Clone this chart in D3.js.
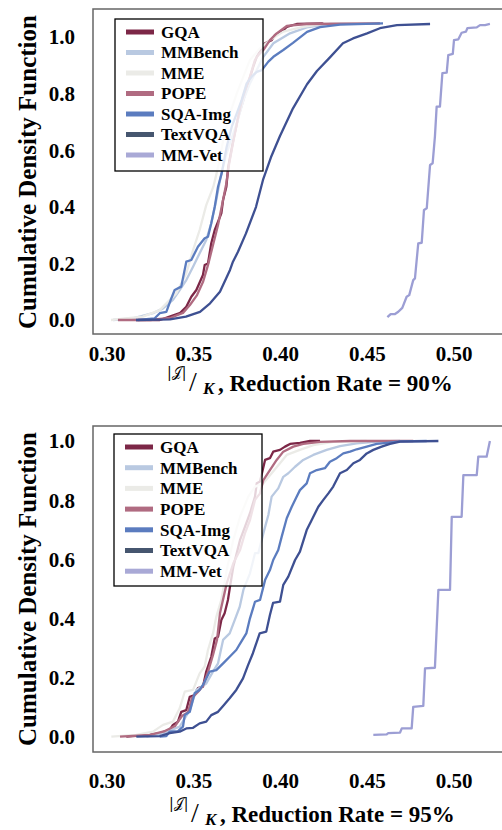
<!DOCTYPE html>
<html>
<head>
<meta charset="utf-8">
<title>CDF of |J|/K</title>
<style>
body { margin: 0; background: #fff; }
svg { display: block; background: #fff; }
text { font-family: "Liberation Serif", "Times New Roman", serif; font-weight: 700; fill: #000; }
</style>
</head>
<body>
<svg width="502" height="830"></svg>
<script src="https://d3js.org/d3.v7.min.js"></script>
<script>

var names = ["GQA", "MMBench", "MME", "POPE", "SQA-Img", "TextVQA", "MM-Vet"];
var colours = ["#7c2747", "#b9c9e1", "#ebebe7", "#b06b81", "#5b7cbf", "#3e5092", "#9c9ed4"];
var swatchColours = ["#7c2747", "#b9c9e1", "#ebebe7", "#b06b81", "#5b7cbf", "#46566f", "#a9a9d6"];
var xTicks = [0.30, 0.35, 0.40, 0.45, 0.50];
var yTicks = [0.0, 0.2, 0.4, 0.6, 0.8, 1.0];
var rates = ["90%", "95%"];

// reduction rate 90%: [x, cdf]
var gqa90 = [[0.3169,0.0],[0.3304,0.0],[0.3361,0.012],[0.3419,0.024],[0.3457,0.047],[0.3486,0.082],[0.3515,0.106],[0.3553,0.159],[0.3563,0.194],[0.3582,0.200],[0.3601,0.271],[0.3621,0.318],[0.3640,0.347],[0.3659,0.377],[0.3669,0.424],[0.3688,0.471],[0.3699,0.542],[0.3728,0.636],[0.3757,0.718],[0.3786,0.777],[0.3814,0.836],[0.3843,0.895],[0.3863,0.930],[0.3892,0.960],[0.3911,0.978],[0.3949,0.989],[0.3968,1.007],[0.4007,1.019],[0.4036,1.036],[0.4093,1.046],[0.4247,1.048]];
var mmbench90 = [[0.3035,0.0],[0.3150,0.006],[0.3265,0.024],[0.3323,0.041],[0.3380,0.071],[0.3419,0.106],[0.3457,0.141],[0.3496,0.188],[0.3534,0.236],[0.3572,0.283],[0.3601,0.342],[0.3630,0.424],[0.3657,0.512],[0.3686,0.583],[0.3719,0.643],[0.3748,0.695],[0.3786,0.777],[0.3824,0.836],[0.3863,0.883],[0.3901,0.930],[0.3959,0.978],[0.4055,1.013],[0.4151,1.034],[0.4285,1.046],[0.4573,1.048]];
var mme90 = [[0.3023,0.0],[0.3207,0.012],[0.3304,0.035],[0.3399,0.094],[0.3457,0.165],[0.3496,0.247],[0.3534,0.318],[0.3572,0.406],[0.3613,0.471],[0.3641,0.542],[0.3670,0.636],[0.3709,0.730],[0.3748,0.801],[0.3786,0.860],[0.3824,0.919],[0.3882,0.960],[0.3939,0.989],[0.4016,1.019],[0.4131,1.036],[0.4247,1.046],[0.4554,1.048]];
var pope90 = [[0.3063,0.0],[0.3248,0.0],[0.3363,0.007],[0.3438,0.025],[0.3478,0.053],[0.3519,0.088],[0.3553,0.134],[0.3582,0.194],[0.3611,0.265],[0.3640,0.336],[0.3663,0.406],[0.3686,0.477],[0.3703,0.548],[0.3726,0.625],[0.3755,0.714],[0.3778,0.777],[0.3801,0.820],[0.3824,0.860],[0.3853,0.919],[0.3872,0.936],[0.3901,0.954],[0.3939,0.989],[0.3978,1.013],[0.4036,1.039],[0.4151,1.046],[0.4573,1.048]];
var sqa90 = [[0.3179,0.0],[0.3275,0.006],[0.3304,0.024],[0.3342,0.029],[0.3371,0.077],[0.3390,0.106],[0.3428,0.118],[0.3457,0.206],[0.3486,0.212],[0.3524,0.259],[0.3563,0.289],[0.3582,0.294],[0.3601,0.342],[0.3621,0.400],[0.3640,0.471],[0.3661,0.518],[0.3690,0.612],[0.3719,0.683],[0.3748,0.730],[0.3776,0.777],[0.3805,0.836],[0.3834,0.860],[0.3863,0.877],[0.3892,0.883],[0.3930,0.913],[0.3959,0.930],[0.4016,0.954],[0.4072,0.979],[0.4153,1.018],[0.4228,1.035],[0.4343,1.044],[0.4591,1.048]];
var textvqa90 = [[0.3167,0.0],[0.3363,0.002],[0.3455,0.012],[0.3536,0.029],[0.3594,0.059],[0.3651,0.100],[0.3709,0.177],[0.3726,0.206],[0.3755,0.241],[0.3801,0.306],[0.3859,0.400],[0.3899,0.495],[0.3945,0.575],[0.3997,0.650],[0.4072,0.748],[0.4153,0.833],[0.4210,0.880],[0.4285,0.928],[0.4360,0.978],[0.4418,0.995],[0.4499,1.013],[0.4573,1.031],[0.4671,1.042],[0.4862,1.046]];
var mmvet90 = [[0.4616,0.010],[0.4635,0.021],[0.4660,0.021],[0.4679,0.029],[0.4702,0.043],[0.4727,0.082],[0.4742,0.088],[0.4765,0.141],[0.4775,0.147],[0.4794,0.271],[0.4814,0.273],[0.4827,0.389],[0.4843,0.395],[0.4862,0.548],[0.4877,0.554],[0.4890,0.648],[0.4900,0.754],[0.4919,0.754],[0.4933,0.872],[0.4958,0.874],[0.4967,0.936],[0.4993,0.940],[0.5000,0.989],[0.5025,0.992],[0.5044,1.015],[0.5069,1.019],[0.5077,1.031],[0.5131,1.034],[0.5150,1.042],[0.5179,1.042],[0.5207,1.046]];

// reduction rate 95%
var gqa95 = [[0.3111,0.001],[0.3246,0.007],[0.3304,0.013],[0.3361,0.024],[0.3380,0.041],[0.3409,0.052],[0.3428,0.085],[0.3457,0.091],[0.3477,0.136],[0.3505,0.142],[0.3524,0.165],[0.3553,0.170],[0.3572,0.221],[0.3601,0.271],[0.3621,0.333],[0.3640,0.339],[0.3659,0.395],[0.3678,0.418],[0.3697,0.463],[0.3709,0.508],[0.3728,0.575],[0.3767,0.666],[0.3795,0.710],[0.3824,0.756],[0.3853,0.812],[0.3863,0.857],[0.3882,0.863],[0.3911,0.936],[0.3939,0.942],[0.3958,0.964],[0.3997,0.970],[0.4026,0.981],[0.4055,0.990],[0.4112,0.994],[0.4170,1.0],[0.4228,1.0]];
var mmbench95 = [[0.3227,0.001],[0.3323,0.013],[0.3419,0.035],[0.3477,0.091],[0.3515,0.159],[0.3572,0.181],[0.3611,0.221],[0.3640,0.249],[0.3669,0.328],[0.3707,0.350],[0.3736,0.395],[0.3765,0.440],[0.3786,0.497],[0.3824,0.553],[0.3853,0.621],[0.3872,0.621],[0.3901,0.688],[0.3930,0.750],[0.3949,0.812],[0.3987,0.840],[0.4016,0.879],[0.4045,0.891],[0.4084,0.913],[0.4131,0.936],[0.4189,0.953],[0.4266,0.970],[0.4343,0.983],[0.4439,0.992],[0.4573,0.999],[0.4689,1.0]];
var mme95 = [[0.3025,0.001],[0.3169,0.007],[0.3265,0.018],[0.3323,0.041],[0.3380,0.052],[0.3419,0.097],[0.3448,0.153],[0.3496,0.159],[0.3534,0.215],[0.3563,0.238],[0.3582,0.294],[0.3611,0.350],[0.3630,0.406],[0.3659,0.463],[0.3690,0.564],[0.3728,0.666],[0.3767,0.744],[0.3814,0.812],[0.3853,0.846],[0.3901,0.857],[0.3949,0.891],[0.3997,0.925],[0.4036,0.953],[0.4112,0.970],[0.4189,0.986],[0.4304,0.997],[0.4497,1.0]];
var pope95 = [[0.3075,0.001],[0.3248,0.007],[0.3334,0.020],[0.3392,0.037],[0.3432,0.071],[0.3467,0.084],[0.3490,0.132],[0.3524,0.152],[0.3553,0.172],[0.3582,0.220],[0.3611,0.277],[0.3634,0.328],[0.3651,0.418],[0.3690,0.519],[0.3728,0.587],[0.3767,0.632],[0.3795,0.688],[0.3824,0.733],[0.3853,0.801],[0.3882,0.823],[0.3901,0.868],[0.3939,0.902],[0.3978,0.936],[0.4016,0.964],[0.4074,0.981],[0.4131,0.990],[0.4228,0.997],[0.4401,1.0],[0.4765,1.0]];
var sqa95 = [[0.3304,0.001],[0.3342,0.003],[0.3361,0.018],[0.3409,0.020],[0.3438,0.035],[0.3448,0.074],[0.3477,0.085],[0.3505,0.148],[0.3534,0.159],[0.3553,0.176],[0.3592,0.221],[0.3630,0.226],[0.3678,0.254],[0.3707,0.271],[0.3745,0.294],[0.3774,0.322],[0.3803,0.350],[0.3824,0.401],[0.3853,0.457],[0.3882,0.463],[0.3911,0.530],[0.3939,0.564],[0.3958,0.598],[0.3987,0.632],[0.4007,0.677],[0.4036,0.739],[0.4065,0.778],[0.4093,0.812],[0.4112,0.834],[0.4151,0.857],[0.4170,0.891],[0.4209,0.902],[0.4256,0.908],[0.4285,0.930],[0.4324,0.942],[0.4362,0.958],[0.4401,0.964],[0.4439,0.972],[0.4497,0.981],[0.4554,0.990],[0.4612,0.994],[0.4689,0.999],[0.4843,1.0]];
var textvqa95 = [[0.3169,0.001],[0.3304,0.003],[0.3361,0.013],[0.3419,0.018],[0.3457,0.029],[0.3496,0.031],[0.3534,0.046],[0.3572,0.052],[0.3601,0.074],[0.3640,0.085],[0.3669,0.105],[0.3707,0.131],[0.3745,0.159],[0.3784,0.198],[0.3813,0.243],[0.3841,0.283],[0.3880,0.350],[0.3918,0.356],[0.3939,0.412],[0.3957,0.453],[0.3997,0.457],[0.4016,0.514],[0.4045,0.542],[0.4084,0.598],[0.4112,0.626],[0.4151,0.699],[0.4180,0.733],[0.4218,0.778],[0.4247,0.801],[0.4276,0.823],[0.4304,0.846],[0.4343,0.891],[0.4382,0.902],[0.4420,0.925],[0.4458,0.936],[0.4497,0.958],[0.4535,0.970],[0.4583,0.981],[0.4631,0.990],[0.4689,0.998],[0.4910,1.0]];
var mmvet95 = [[0.4535,0.007],[0.4612,0.009],[0.4621,0.013],[0.4689,0.015],[0.4699,0.029],[0.4756,0.029],[0.4765,0.102],[0.4823,0.105],[0.4833,0.232],[0.4890,0.234],[0.4910,0.497],[0.4977,0.497],[0.4987,0.744],[0.5044,0.744],[0.5054,0.885],[0.5131,0.885],[0.5140,0.947],[0.5188,0.947],[0.5207,1.0]];

var series90 = [gqa90, mmbench90, mme90, pope90, sqa90, textvqa90, mmvet90];
var series95 = [gqa95, mmbench95, mme95, pope95, sqa95, textvqa95, mmvet95];

var svg = d3.select("svg");

var x = d3.scaleLinear().domain([0.30, 0.50]).range([107, 454]);

var panels = [
  { series: series90, rate: rates[0], top: 9, bottom: 334, y: d3.scaleLinear().domain([0, 1]).range([320, 37]),
    tickY: 361, titleX: 218, titleY: 391, legendTop: 19, legendLeft: 115, rowStep: 20.5, labelY: 172 },
  { series: series95, rate: rates[1], top: 426, bottom: 752, y: d3.scaleLinear().domain([0, 1]).range([737, 441]),
    tickY: 788, titleX: 220, titleY: 822, legendTop: 434, legendLeft: 114, rowStep: 20.7, labelY: 589 }
];

panels.forEach(function(p) {
  var g = svg.append("g");

  g.append("rect")
      .attr("x", 93)
      .attr("y", p.top)
      .attr("width", 440)
      .attr("height", p.bottom - p.top)
      .attr("fill", "none")
      .attr("stroke", "#666")
      .attr("stroke-width", 1.5);

  var line = d3.line()
      .x(function(d) { return x(d[0]); })
      .y(function(d) { return p.y(d[1]); });

  g.append("g")
    .selectAll("path")
      .data(p.series)
    .enter().append("path")
      .attr("d", line)
      .attr("fill", "none")
      .attr("stroke", function(d, i) { return colours[i]; })
      .attr("stroke-width", 2.3)
      .attr("stroke-linejoin", "round");

  // tick labels, no tick marks
  g.append("g")
    .selectAll("text")
      .data(xTicks)
    .enter().append("text")
      .attr("x", function(d) { return x(d); })
      .attr("y", p.tickY)
      .attr("text-anchor", "middle")
      .style("font-size", "21px")
      .text(function(d) { return d3.format(".2f")(d); });

  g.append("g")
    .selectAll("text")
      .data(yTicks)
    .enter().append("text")
      .attr("x", 75)
      .attr("y", function(d) { return p.y(d); })
      .attr("dy", "0.35em")
      .attr("text-anchor", "end")
      .style("font-size", "21px")
      .text(function(d) { return d3.format(".1f")(d); });

  g.append("text")
      .attr("transform", "translate(36," + p.labelY + ") rotate(-90)")
      .attr("text-anchor", "middle")
      .style("font-size", "25px")
      .text("Cumulative Density Function");

  // x title: |J|/K, Reduction Rate = ..
  var t = g.append("text");
  t.append("tspan")
      .attr("x", p.titleX - 51).attr("y", p.titleY - 14)
      .style("font-family", "'DejaVu Serif', serif")
      .style("font-size", "14px").style("font-weight", 400)
      .text("|\uD835\uDCA5|");
  t.append("tspan")
      .attr("x", p.titleX - 29).attr("y", p.titleY)
      .style("font-size", "28px").style("font-weight", 400)
      .text("/");
  t.append("tspan")
      .attr("x", p.titleX - 15).attr("y", p.titleY + 3)
      .style("font-size", "17px").style("font-style", "italic")
      .text("K");
  t.append("tspan")
      .attr("x", p.titleX).attr("y", p.titleY)
      .style("font-size", "23px")
      .text(", Reduction Rate = " + p.rate);

  // legend
  var lg = g.append("g")
      .attr("transform", "translate(" + p.legendLeft + "," + p.legendTop + ")");
  lg.append("rect")
      .attr("width", 148)
      .attr("height", 152)
      .attr("fill", "#fff")
      .attr("fill-opacity", 0.8)
      .attr("stroke", "#000")
      .attr("stroke-width", 1.3);
  var rows = lg.selectAll("g.row")
      .data(names)
    .enter().append("g")
      .attr("class", "row")
      .attr("transform", function(d, i) { return "translate(0," + (13 + i * p.rowStep) + ")"; });
  rows.append("line")
      .attr("x1", 11).attr("x2", 39)
      .attr("stroke", function(d, i) { return swatchColours[i]; })
      .attr("stroke-width", 5);
  rows.append("text")
      .attr("x", 46)
      .attr("dy", "0.35em")
      .style("font-size", "17px")
      .text(function(d) { return d; });
});

</script>
</body>
</html>
